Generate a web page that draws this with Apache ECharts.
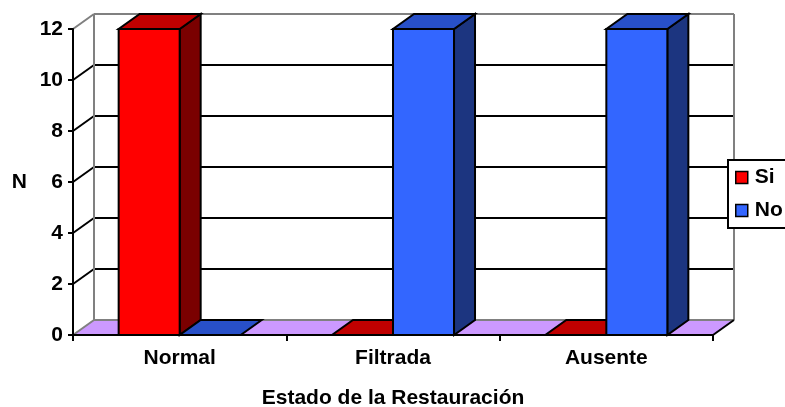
<!DOCTYPE html>
<html><head><meta charset="utf-8">
<script src="https://cdn.jsdelivr.net/npm/echarts@6/dist/echarts.min.js"></script>
<style>html,body{margin:0;padding:0;background:#fff}#c{width:785px;height:407px}</style>
</head><body><div id="c"></div>
<script>
// Chart data
const categories = ['Normal', 'Filtrada', 'Ausente'];
const siValues = [12, 0, 0];
const noValues = [0, 12, 12];
const yTicks = [0, 2, 4, 6, 8, 10, 12];
const seriesNames = ['Si', 'No'];

// Depth offset of the pseudo-3D box (screen px)
const DX = 21, DY = -15;
const FONT = '"Liberation Sans", Arial, sans-serif';
const FS = 21;
const GREY = '#808080';
const FLOOR = '#CC99FF';
const palette = {
  Si: { front: '#FF0000', top: '#C00000', side: '#7A0000' },
  No: { front: '#3366FF', top: '#2850C8', side: '#1C3580' }
};
const BAR_FRAC = 0.286;

function line(x1, y1, x2, y2, color, w) {
  return { type: 'line', shape: { x1, y1, x2, y2 }, style: { stroke: color, lineWidth: w } };
}

// Back wall grid lines and left side wall diagonals, one per tick value
function wallRenderer(params, api) {
  const cs = params.coordSys;
  const v = api.value(0);
  const y = api.coord([0, v])[1];
  const xL = cs.x, xR = cs.x + cs.width;
  const edge = (v === yTicks[0] || v === yTicks[yTicks.length - 1]);
  const col = edge ? GREY : '#000';
  const children = [];
  if (v !== yTicks[0]) {
    children.push(line(xL, y, xL + DX, y + DY, col, 2));
    children.push(line(xL + DX, y + DY, xR + DX, y + DY, col, 2));
  }
  if (v === yTicks[yTicks.length - 1]) {
    const yb = api.coord([0, yTicks[0]])[1];
    children.push(line(xL + DX, y + DY, xL + DX, yb + DY, GREY, 2));
    children.push(line(xR + DX, y + DY, xR + DX, yb + DY, GREY, 2));
  }
  return { type: 'group', children };
}

// Floor plane at the base value
function floorRenderer(params, api) {
  const cs = params.coordSys;
  const y = api.coord([0, api.value(0)])[1];
  const xL = cs.x, xR = cs.x + cs.width;
  return {
    type: 'group',
    children: [
      { type: 'polygon', shape: { points: [[xL, y], [xR, y], [xR + DX, y + DY], [xL + DX, y + DY]] },
        style: { fill: FLOOR } },
      line(xL + DX, y + DY, xR + DX, y + DY, GREY, 2),
      line(xL, y, xL + DX, y + DY, GREY, 2),
      line(xR, y, xR + DX, y + DY, '#000', 2)
    ]
  };
}

// 3D block: front face, right side and top
function barRenderer(name, side) {
  const c = palette[name];
  return function (params, api) {
    const idx = api.value(0);
    const v = api.value(1);
    const base = api.coord([idx, 0]);
    const topP = api.coord([idx, v]);
    const band = api.size([1, 0])[0];
    const w = band * BAR_FRAC;
    const x0 = side < 0 ? base[0] - w : base[0];
    const x1 = x0 + w;
    const y0 = base[1], yt = topP[1];
    const st = { stroke: '#000', lineWidth: 2, lineJoin: 'miter' };
    const children = [];
    if (yt < y0 - 0.5) {
      children.push({ type: 'polygon', shape: { points: [[x1, yt], [x1 + DX, yt + DY], [x1 + DX, y0 + DY], [x1, y0]] },
        style: Object.assign({ fill: c.side }, st) });
      children.push({ type: 'rect', shape: { x: x0, y: yt, width: w, height: y0 - yt },
        style: Object.assign({ fill: c.front }, st) });
    }
    children.push({ type: 'polygon', shape: { points: [[x0, yt], [x1, yt], [x1 + DX, yt + DY], [x0 + DX, yt + DY]] },
      style: Object.assign({ fill: c.top }, st) });
    return { type: 'group', children };
  };
}

const chart = echarts.init(document.getElementById('c'), null, { renderer: 'canvas' });
chart.setOption({
  animation: false,
  backgroundColor: '#fff',
  textStyle: { fontFamily: FONT },
  color: [palette.Si.front, palette.No.front],
  grid: { left: 73, top: 29, width: 640, height: 306, containLabel: false, outerBoundsMode: 'none' },
  legend: {
    data: seriesNames,
    orient: 'vertical',
    left: 728, top: 160,
    padding: [7, 40, 7, 7],
    itemGap: 12,
    itemWidth: 12, itemHeight: 12,
    icon: 'rect',
    backgroundColor: '#fff',
    borderColor: '#000', borderWidth: 2, borderRadius: 0,
    itemStyle: { borderColor: '#000', borderWidth: 1.5 },
    textStyle: { fontFamily: FONT, fontWeight: 'bold', fontSize: FS, color: '#000', lineHeight: 21, padding: [0, 0, 0, 2] }
  },
  xAxis: {
    type: 'category',
    data: categories,
    z: 10,
    name: 'Estado de la Restauración',
    nameLocation: 'middle',
    nameGap: 53,
    nameTextStyle: { fontFamily: FONT, fontWeight: 'bold', fontSize: FS, color: '#000' },
    axisLine: { lineStyle: { color: '#000', width: 2 } },
    axisTick: { show: true, length: 6, lineStyle: { color: '#000', width: 2 } },
    axisLabel: { margin: 13, fontFamily: FONT, fontWeight: 'bold', fontSize: FS, color: '#000' },
    splitLine: { show: false }
  },
  yAxis: {
    type: 'value',
    min: 0, max: 12, interval: 2,
    z: 10,
    name: 'N',
    nameLocation: 'middle',
    nameRotate: 0,
    nameGap: 46,
    nameTextStyle: { fontFamily: FONT, fontWeight: 'bold', fontSize: FS, color: '#000' },
    axisLine: { show: true, lineStyle: { color: '#000', width: 2 } },
    axisTick: { show: true, length: 5, lineStyle: { color: '#000', width: 2 } },
    axisLabel: { margin: 10, fontFamily: FONT, fontWeight: 'bold', fontSize: FS, color: '#000' },
    splitLine: { show: false }
  },
  series: [
    { type: 'custom', name: 'wall', z: 1, silent: true, clip: false,
      renderItem: wallRenderer, data: yTicks.map(v => [v]), encode: { y: 0 } },
    { type: 'custom', name: 'floor', z: 2, silent: true, clip: false,
      renderItem: floorRenderer, data: [[yTicks[0]]], encode: { y: 0 } },
    { type: 'custom', name: 'Si', z: 3, clip: false, itemStyle: { color: palette.Si.front },
      renderItem: barRenderer('Si', -1), data: siValues.map((v, i) => [i, v]), encode: { x: 0, y: 1 } },
    { type: 'custom', name: 'No', z: 3, clip: false, itemStyle: { color: palette.No.front },
      renderItem: barRenderer('No', 1), data: noValues.map((v, i) => [i, v]), encode: { x: 0, y: 1 } }
  ]
});
</script>
</body></html>
